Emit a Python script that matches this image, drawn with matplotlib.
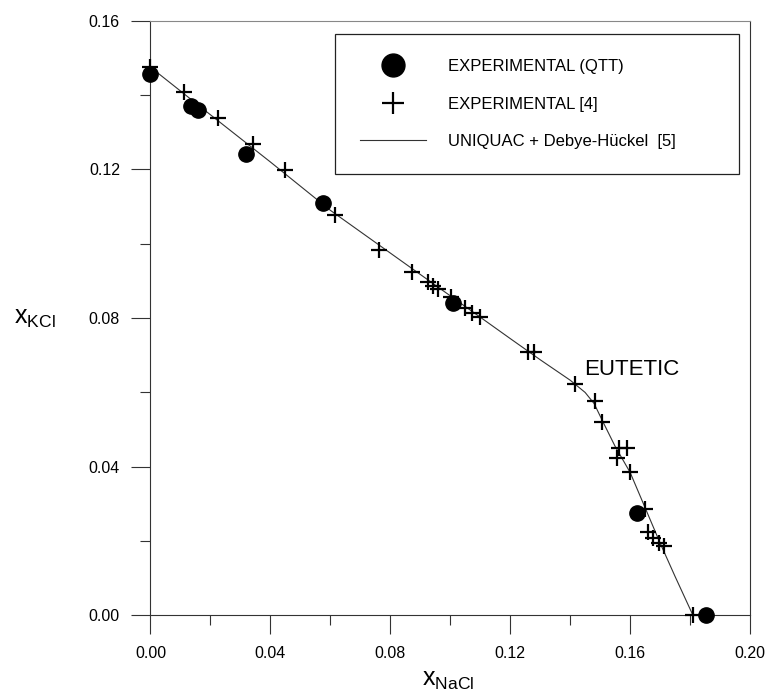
import matplotlib
matplotlib.use("Agg")
import matplotlib.pyplot as plt
from matplotlib.ticker import MultipleLocator, FormatStrFormatter

plt.rcParams['font.family'] = ['Liberation Sans', 'DejaVu Sans']

# experimental points, this work (QTT)
qtt_nacl = [0.0, 0.0134, 0.0159, 0.0318, 0.0574, 0.1009, 0.1623, 0.1854]
qtt_kcl = [0.1457, 0.1371, 0.1360, 0.1241, 0.1109, 0.0840, 0.0277, 0.0]

# experimental points from ref [4]
ref_nacl = [0.0, 0.0113, 0.0226, 0.0341, 0.0448, 0.0617, 0.0762, 0.0874,
            0.0926, 0.0943, 0.0959, 0.1004, 0.1048, 0.1074, 0.1098, 0.1259,
            0.1278, 0.1417, 0.1482, 0.1506, 0.1563, 0.1591, 0.1556, 0.1601,
            0.1651, 0.1659, 0.1676, 0.1698, 0.1713, 0.1809]
ref_kcl = [0.1475, 0.1409, 0.1338, 0.1268, 0.1199, 0.1077, 0.0982, 0.0923,
           0.0898, 0.0886, 0.0878, 0.0858, 0.0826, 0.0813, 0.0802, 0.0710,
           0.0710, 0.0622, 0.0577, 0.0521, 0.0450, 0.0450, 0.0423, 0.0387,
           0.0287, 0.0225, 0.0208, 0.0194, 0.0187, 0.0]

# UNIQUAC + Debye-Hueckel model curve
model_nacl = [0.0, 0.02, 0.04, 0.06, 0.08, 0.10, 0.12, 0.13, 0.14, 0.145,
              0.148, 0.151, 0.155, 0.160, 0.165, 0.170, 0.175, 0.181]
model_kcl = [0.1475, 0.1347, 0.1220, 0.1090, 0.0975, 0.0860, 0.0745, 0.0688,
             0.0633, 0.0600, 0.0570, 0.0520, 0.0455, 0.0385, 0.0290, 0.0195,
             0.0105, 0.0]

fig = plt.figure(figsize=(7.69, 6.91), dpi=100)
ax = fig.add_axes([0.1957, 0.1093, 0.7796, 0.8607])

ax.plot(qtt_nacl, qtt_kcl, 'o', color='black', markersize=11,
        label='EXPERIMENTAL (QTT)', zorder=3, clip_on=False)
ax.plot(ref_nacl, ref_kcl, '+', color='black', markersize=11, mew=1.6,
        label='EXPERIMENTAL [4]', zorder=4, clip_on=False)
ax.plot(model_nacl, model_kcl, '-', color='#333333', lw=0.8,
        label=u'UNIQUAC + Debye-Hückel  [5]', zorder=2)

ax.set_xlim(0, 0.2)
ax.set_ylim(0, 0.16)
ax.xaxis.set_major_locator(MultipleLocator(0.04))
ax.xaxis.set_minor_locator(MultipleLocator(0.02))
ax.yaxis.set_major_locator(MultipleLocator(0.04))
ax.yaxis.set_minor_locator(MultipleLocator(0.02))
ax.xaxis.set_major_formatter(FormatStrFormatter('%.2f'))
ax.yaxis.set_major_formatter(FormatStrFormatter('%.2f'))
ax.tick_params(which='major', direction='out', length=14, width=0.8,
               labelsize=11.5, pad=8, color='#333333')
ax.tick_params(which='minor', direction='out', length=7, width=0.8,
               color='#333333')

for s in ax.spines.values():
    s.set_linewidth(0.8)
    s.set_color('#333333')
ax.spines['top'].set_color('#888888')

ax.set_xlabel(r'$\mathregular{x_{NaCl}}$', fontsize=18, va='center')
ax.xaxis.set_label_coords(0.496, -0.108)
ax.set_ylabel(r'$\mathregular{x_{KCl}}$', fontsize=18, rotation=0,
              ha='center', va='center')
ax.yaxis.set_label_coords(-0.193, 0.5)

ax.text(0.1448, 0.0647, 'EUTETIC', fontsize=16, ha='left', va='baseline')

leg = ax.legend(loc='upper left', bbox_to_anchor=(0.3078, 0.0, 0.674, 0.9776),
                mode='expand', borderaxespad=0, fontsize=12, markerscale=1.5,
                handlelength=3.95, handletextpad=1.3, borderpad=1.5,
                labelspacing=1.35, fancybox=False, framealpha=1)
leg.get_frame().set_edgecolor('#222222')
leg.get_frame().set_linewidth(0.9)

fig.savefig('out.png', dpi=100)
